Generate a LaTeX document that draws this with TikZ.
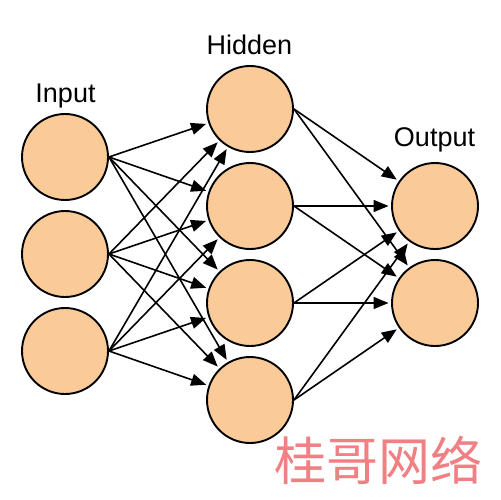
\documentclass[tikz,border=0pt]{standalone}
\usepackage{fontspec}
\setmainfont{Liberation Sans}
\newfontfamily\cjk{Noto Sans CJK SC}
\usetikzlibrary{arrows.meta}
\definecolor{neuron}{RGB}{250,202,152}
\definecolor{wmark}{RGB}{240,128,132}
\tikzset{
  neuron/.style={circle, draw=black, fill=neuron, line width=1.9bp, minimum size=86bp, inner sep=0pt},
  conn/.style={line width=1.6bp, -{Triangle[length=15bp,width=12bp]}, shorten >=2.5bp},
  lbl/.style={font=\fontsize{27bp}{32bp}\selectfont, anchor=base, inner sep=0pt}
}
\begin{document}
\begin{tikzpicture}[x=1bp,y=-1bp]
\useasboundingbox (0,0) rectangle (500,500);
\fill[white] (0,0) rectangle (500,500);
% nodes
\node[neuron] (i1) at (65,157) {};
\node[neuron] (i2) at (65,254) {};
\node[neuron] (i3) at (65,351) {};
\node[neuron] (h1) at (250,109) {};
\node[neuron] (h2) at (250,206) {};
\node[neuron] (h3) at (250,303) {};
\node[neuron] (h4) at (250,400) {};
\node[neuron] (o1) at (435,206) {};
\node[neuron] (o2) at (435,303) {};
% labels
\node[lbl] (li) at (65.5,103) {Input};
\node[lbl] (lh) at (249.5,55) {Hidden};
\node[lbl] (lo) at (434.5,147) {Output};
% connections
\foreach \s in {i1,i2,i3}
  \foreach \t in {h1,h2,h3,h4}
    \draw[conn] (\s.east) -- (\t);
\foreach \s in {h1,h2,h3,h4}
  \foreach \t in {o1,o2}
    \draw[conn] (\s.east) -- (\t);
% watermark
\node[text=wmark, font=\cjk\fontsize{52bp}{56bp}\selectfont, inner sep=0pt] (wm) at (378,460) {桂哥网络};
\end{tikzpicture}
\end{document}
